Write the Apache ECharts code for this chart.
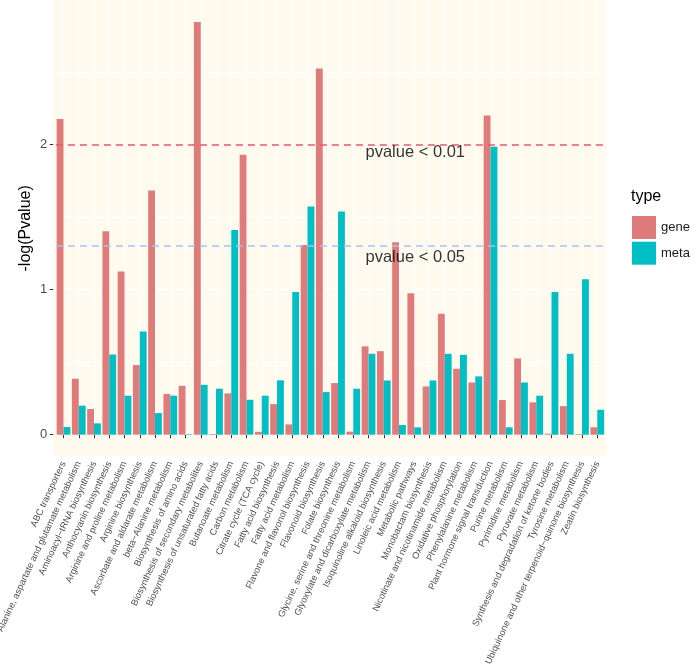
<!DOCTYPE html>
<html><head><meta charset="utf-8">
<script src="https://cdn.jsdelivr.net/npm/echarts@6/dist/echarts.min.js"></script>
<style>html,body{margin:0;padding:0;background:#fff}#c{width:699px;height:667px}</style>
</head><body><div id="c"></div>
<script>
const categories = [
  'ABC transporters',
  'Alanine, aspartate and glutamate metabolism',
  'Aminoacyl\u2212tRNA biosynthesis',
  'Anthocyanin biosynthesis',
  'Arginine and proline metabolism',
  'Arginine biosynthesis',
  'Ascorbate and aldarate metabolism',
  'beta\u2212Alanine metabolism',
  'Biosynthesis of amino acids',
  'Biosynthesis of secondary metabolites',
  'Biosynthesis of unsaturated fatty acids',
  'Butanoate metabolism',
  'Carbon metabolism',
  'Citrate cycle (TCA cycle)',
  'Fatty acid biosynthesis',
  'Fatty acid metabolism',
  'Flavone and flavonol biosynthesis',
  'Flavonoid biosynthesis',
  'Folate biosynthesis',
  'Glycine, serine and threonine metabolism',
  'Glyoxylate and dicarboxylate metabolism',
  'Isoquinoline alkaloid biosynthesis',
  'Linoleic acid metabolism',
  'Metabolic pathways',
  'Monobactam biosynthesis',
  'Nicotinate and nicotinamide metabolism',
  'Oxidative phosphorylation',
  'Phenylalanine metabolism',
  'Plant hormone signal transduction',
  'Purine metabolism',
  'Pyrimidine metabolism',
  'Pyruvate metabolism',
  'Synthesis and degradation of ketone bodies',
  'Tyrosine metabolism',
  'Ubiquinone and other terpenoid\u2212quinone biosynthesis',
  'Zeatin biosynthesis'
];
const geneValues = [2.177, 0.386, 0.177, 1.403, 1.125, 0.480, 1.685, 0.281, 0.337, 2.847,
  0.005, 0.285, 1.931, 0.020, 0.211, 0.071, 1.309, 2.526, 0.356, 0.021,
  0.609, 0.576, 1.327, 0.976, 0.333, 0.834, 0.455, 0.360, 2.202, 0.239,
  0.526, 0.223, 0.007, 0.197, 0.005, 0.051];
const metaValues = [0.053, 0.200, 0.078, 0.553, 0.269, 0.712, 0.149, 0.269, 0.004, 0.344,
  0.317, 1.411, 0.241, 0.269, 0.375, 0.985, 1.573, 0.294, 1.539, 0.317,
  0.558, 0.374, 0.067, 0.051, 0.374, 0.558, 0.551, 0.402, 1.986, 0.051,
  0.360, 0.269, 0.985, 0.558, 1.072, 0.172];
const seriesNames = ['gene', 'meta'];
const yTicks = [0, 1, 2];
const yGridValues = [0, 0.5, 1, 1.5, 2, 2.5];
const yMax = 2.998;
const thresholdValues = [2, 1.30103];
const thresholdLabels = ['pvalue < 0.01', 'pvalue < 0.05'];
const annotationCategory = 'Metabolic pathways';
const annotationY = [1.95, 1.222];

const FONT = "'Liberation Sans', Arial, Helvetica, sans-serif";
const chart = echarts.init(document.getElementById('c'), null, {renderer: 'canvas'});
const option = {
  animation: false,
  textStyle: {fontFamily: FONT},
  title: {
    text: 'type', left: 631, top: 189, padding: 0,
    textStyle: {fontSize: 16, fontWeight: 'normal', color: '#000', fontFamily: FONT}
  },
  legend: {
    data: seriesNames, orient: 'vertical', left: 632, top: 216, padding: 0,
    itemWidth: 24, itemHeight: 23, itemGap: 2.7, itemTextGap: 11, icon: 'rect',
    selectedMode: false,
    textStyle: {fontSize: 13, color: '#1a1a1a', fontFamily: FONT}
  },
  graphic: {
    elements: [{
      type: 'rect', z: -10, silent: true,
      shape: {x: 53.3, y: 0, width: 552.7, height: 456},
      style: {fill: '#FFFAEE'}
    }]
  },
  grid: {left: 55.9, right: 94.1, top: 0, bottom: 232.3, containLabel: false, outerBoundsMode: 'none'},
  xAxis: {
    type: 'category', data: categories, offset: 21.3,
    axisLine: {show: false},
    axisTick: {show: true, alignWithLabel: true, length: 3.5, lineStyle: {color: '#333', width: 1}},
    axisLabel: {interval: 0, rotate: 65, fontSize: 9.3, color: '#4D4D4D', margin: 6, fontFamily: FONT},
    splitLine: {show: false}
  },
  yAxis: {
    type: 'value', min: 0, max: yMax, offset: 2.6,
    name: '-log(Pvalue)', nameLocation: 'middle', nameRotate: 90, nameGap: 20, nameMoveOverlap: false,
    nameTextStyle: {fontSize: 16, color: '#000', fontFamily: FONT, padding: [0, 22, 0, 0]},
    axisLine: {show: false},
    axisTick: {show: true, length: 3.5, customValues: yTicks, lineStyle: {color: '#333', width: 1}},
    axisLabel: {customValues: yTicks, fontSize: 13, color: '#4D4D4D', margin: 6, fontFamily: FONT},
    splitLine: {show: false}
  },
  series: [
    {
      name: 'grid', type: 'line', data: [], z: 1, silent: true,
      markLine: {
        z: 1, silent: true, symbol: 'none', label: {show: false},
        lineStyle: {color: '#FFFFFF', width: 1, type: 'solid'},
        data: categories.map(c => ({xAxis: c})).concat(yGridValues.map(v => ({yAxis: v})))
      }
    },
    {
      name: seriesNames[0], type: 'bar', data: geneValues, z: 2,
      barWidth: '45%', barGap: '0%',
      itemStyle: {color: '#E07B7C'}
    },
    {
      name: seriesNames[1], type: 'bar', data: metaValues, z: 2,
      barWidth: '45%', barGap: '0%',
      itemStyle: {color: '#00BFC4'}
    },
    {
      name: 'threshold', type: 'line', data: [], z: 5, silent: true,
      markLine: {
        z: 5, silent: true, symbol: 'none', label: {show: false},
        lineStyle: {width: 1.5, type: [7, 5]},
        data: [
          {yAxis: thresholdValues[0], lineStyle: {color: '#E8566C'}},
          {yAxis: thresholdValues[1], lineStyle: {color: '#A2C5EF'}}
        ]
      }
    },
    {
      name: 'annotation', type: 'scatter', z: 6, silent: true,
      symbolSize: 0,
      data: annotationY.map((v, i) => ({value: [annotationCategory, v], label: {formatter: thresholdLabels[i]}})),
      label: {show: true, position: 'inside', offset: [1, 0], fontSize: 16.5, color: '#000', fontFamily: FONT}
    }
  ]
};
chart.setOption(option);
</script>
</body></html>
